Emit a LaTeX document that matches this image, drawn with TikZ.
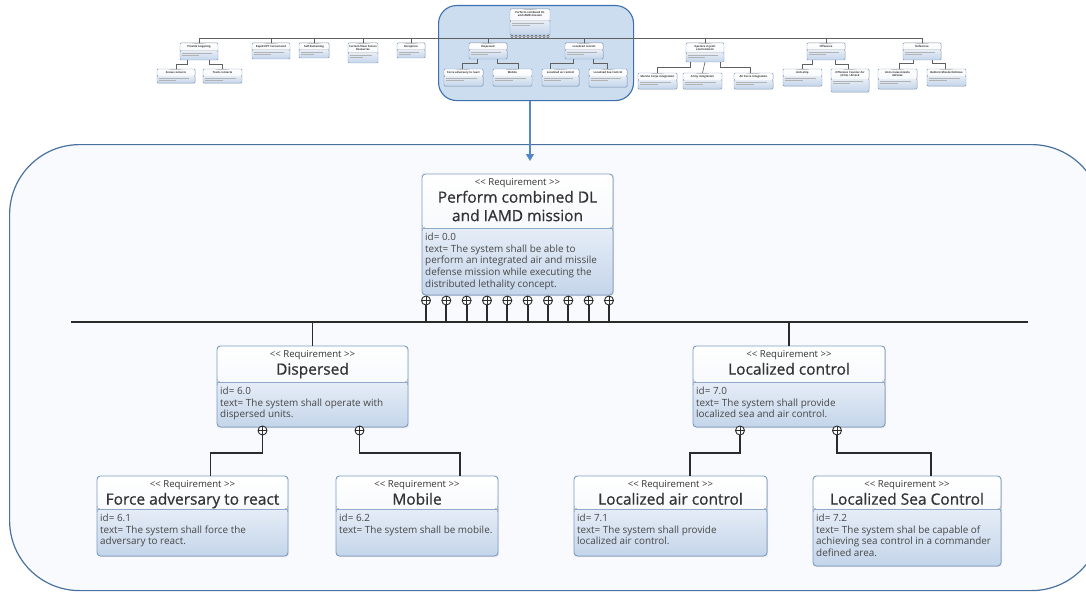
\documentclass[tikz,border=0pt]{standalone}
\usepackage{fontspec}
\setmainfont{Open Sans}
\newfontfamily\heavyfont{Open Sans}[FakeBold=0.7]
\usetikzlibrary{calc,arrows.meta,shadows}

\definecolor{frameblue}{HTML}{4A72A0}
\definecolor{framefill}{HTML}{F8FAFD}
\definecolor{reqborder}{HTML}{7C9CC4}
\definecolor{hdrbot}{HTML}{EDF2F9}
\definecolor{bodytop}{HTML}{E6EDF7}
\definecolor{bodybot}{HTML}{C4D5EA}
\definecolor{sepline}{HTML}{8FA9CB}
\definecolor{inktext}{HTML}{333333}
\definecolor{wirecol}{HTML}{2B2B2B}
\definecolor{hlfill}{HTML}{CCDDF0}
\definecolor{hlborder}{HTML}{3D70AC}
\definecolor{arrowblue}{HTML}{5288C8}

% stereotype label, kept apart so << and >> stay plain angle brackets
\newcommand\reqstereo{<\kern0pt< Requirement >\kern0pt>}

\tikzset{
  req/.style={draw=reqborder, line width=0.9pt, rounded corners=3.5pt,
    anchor=north west, inner sep=0pt, outer sep=0pt,
    drop shadow={opacity=0.12, shadow xshift=1.2pt, shadow yshift=-1.2pt},
    path picture={
      \fill[top color=white, bottom color=hdrbot]
        (path picture bounding box.north west) rectangle
        ([yshift=-#1pt]path picture bounding box.north east);
      \fill[top color=bodytop, bottom color=bodybot]
        ([yshift=-#1pt]path picture bounding box.north west) rectangle
        (path picture bounding box.south east);
      \draw[sepline, line width=0.8pt]
        ([yshift=-#1pt]path picture bounding box.north west) --
        ([yshift=-#1pt]path picture bounding box.north east);
    }},
  stereo/.style={anchor=base, inner sep=0pt, text=inktext,
    font=\fontsize{9.6}{11}\selectfont},
  reqtitle/.style={anchor=north, inner sep=0pt, align=center, text=inktext,
    font=\heavyfont\fontsize{15.5}{18.5}\selectfont},
  reqbody/.style={anchor=north west, inner sep=0pt, align=left, text=inktext!90,
    font=\fontsize{9.9}{11.8}\selectfont},
  plusc/.style={circle, draw=wirecol, line width=0.9pt, fill=white,
    minimum size=9pt, inner sep=0pt,
    path picture={\draw[wirecol, line width=0.8pt]
      (path picture bounding box.north) -- (path picture bounding box.south)
      (path picture bounding box.west) -- (path picture bounding box.east);}},
  wire/.style={draw=wirecol, line width=1.8pt},
  busline/.style={draw=wirecol, line width=2.6pt},
  % overview tree
  mreq/.style={draw=reqborder, line width=0.4pt, rounded corners=1pt,
    anchor=north west, inner sep=0pt, outer sep=0pt,
    path picture={
      \fill[top color=white, bottom color=hdrbot]
        (path picture bounding box.north west) rectangle
        ([yshift=-#1pt]path picture bounding box.north east);
      \fill[top color=bodytop, bottom color=bodybot]
        ([yshift=-#1pt]path picture bounding box.north west) rectangle
        (path picture bounding box.south east);
      \draw[gray!60, line width=0.5pt]
        ([xshift=1.5pt,yshift={-(#1+2.5)*1pt}]path picture bounding box.north west) --
        ([xshift=-6pt,yshift={-(#1+2.5)*1pt}]path picture bounding box.north east)
        ([xshift=1.5pt,yshift={-(#1+4.6)*1pt}]path picture bounding box.north west) --
        ([yshift={-(#1+4.6)*1pt}]path picture bounding box.north);
    }},
  mstereo/.style={anchor=base, inner sep=0pt, text=inktext,
    font=\fontsize{1.5}{1.7}\selectfont},
  mtitle/.style={anchor=north, inner sep=0pt, align=center, text=inktext,
    font=\fontsize{2.7}{3}\selectfont\bfseries},
  mwire/.style={draw=gray!75!black, line width=0.6pt},
  mdot/.style={circle, draw=gray!40!black, line width=0.3pt, fill=white,
    minimum size=2.4pt, inner sep=0pt},
}

% requirement box: name, left, top, width, height, header height, title, body
\newcommand\reqbox[8]{%
  \node[req=#6, minimum width=#4pt, minimum height=#5pt] (#1) at (#2,#3) {};
  \node[stereo] (#1-st) at ($(#1.north)+(0,11.7)$) {\reqstereo};
  \node[reqtitle] (#1-ti) at ($(#1.north)+(0,15.5)$) {\strut #7};
  \node[reqbody] (#1-tx) at ($(#1.north west)+(3,#6+3.8)$) {\strut #8};
}
% small box of the overview tree: name, left, top, width, height, header height, title
\newcommand\minireq[7]{%
  \node[mreq=#6, minimum width=#4pt, minimum height=#5pt] (#1) at (#2,#3) {};
  \node[mstereo] (#1-st) at ($(#1.north)+(0,1.7)$) {\reqstereo};
  \node[mtitle] (#1-ti) at ($(#1.north)+(0,2.1)$) {#7};
}

\begin{document}
\begin{tikzpicture}[x=1pt, y=-1pt]
\useasboundingbox (0,0) rectangle (1086,594);
\clip (0,0) rectangle (1086,594);

% ---------- overview of the whole requirement tree ----------
\node[draw=hlborder, line width=1.1pt, fill=hlfill, rounded corners=18pt,
  minimum width=195pt, minimum height=95pt, anchor=north west, inner sep=0pt]
  (minibox) at (438,5) {};

\coordinate (mbarL) at (199,38.5);
\coordinate (mbarR) at (922,38.5);
\draw[mwire, line width=0.7pt] (mbarL) -- (mbarR);

\minireq{mTop}{510}{9}{40}{26}{12}{Perform combined DL\\and IAMD mission}
\minireq{mP1}{180}{43}{38}{17}{8}{Provide targeting}
\minireq{mS}{157}{69}{38}{14}{7}{Sense contacts}
\minireq{mT}{203}{69}{39}{14}{7}{Track contacts}
\minireq{mP2}{252}{43}{38}{16}{7}{Rapid HPT turnaround}
\minireq{mP3}{299}{43}{30}{15}{7}{Self-Sustaining}
\minireq{mP4}{348}{43}{30}{20}{10}{Current/Near Future\\Resources}
\minireq{mP5}{397}{43}{28}{15}{7}{Deception}
\minireq{mDisp}{469}{43}{38}{16}{7}{Dispersed}
\minireq{mLoc}{565}{43}{38}{16}{7}{Localized control}
\minireq{mForce}{444}{69}{39}{17}{7}{Force adversary to react}
\minireq{mMob}{493}{69}{39}{17}{7}{Mobile}
\minireq{mAir}{542}{69}{37}{17}{7}{Localized air control}
\minireq{mSea}{589}{69}{38}{18}{7}{Localized Sea Control}
\minireq{mOp}{686}{43}{38}{19}{10}{Operate in joint\\environment}
\minireq{mMar}{638}{73}{39}{16}{7}{Marine Corps integration}
\minireq{mArmy}{683}{73}{39}{16}{7}{Army integration}
\minireq{mAF}{734}{73}{39}{16}{7}{Air Force integration}
\minireq{mOff}{807}{43}{38}{17}{7}{Offensive}
\minireq{mShip}{783}{69}{39}{17}{7}{Anti-ship}
\minireq{mOCA}{831}{69}{38}{23}{10}{Offensive Counter Air\\(OCA) / Attack}
\minireq{mDef}{903}{43}{38}{17}{7}{Defensive}
\minireq{mACM}{878}{69}{39}{20}{10}{Anti-cruise missile\\defense}
\minireq{mBMD}{927}{69}{39}{17}{7}{Ballistic Missile Defense}

% root of the overview and its links to the bus
\foreach \i in {0,...,9}{
  \node[mdot] (mtc\i) at ({512+\i*4},36.4) {};
}
\foreach \n in {mP1,mP2,mP3,mP4,mP5,mDisp,mLoc,mOp,mOff,mDef}{
  \draw[mwire] (\n.north |- mbarL) -- (\n.north);
}
% second-level links of the overview
\draw[mwire] ([xshift=-12pt]mP1.south) -- ++(0,4.5) -| (mS.north);
\draw[mwire] ([xshift=10pt]mP1.south) -- ++(0,4.5) -| (mT.north);
\draw[mwire] ([xshift=-11pt]mDisp.south) -- ++(0,4) -| ([xshift=-1pt]mForce.north);
\draw[mwire] ([xshift=9pt]mDisp.south) -- ++(0,4) -| ([xshift=6pt]mMob.north);
\draw[mwire] ([xshift=-11pt]mLoc.south) -- ++(0,4) -| ([xshift=-10pt]mAir.north);
\draw[mwire] ([xshift=9pt]mLoc.south) -- ++(0,4) -| ([xshift=-1pt]mSea.north);
\draw[mwire] ([xshift=-15pt]mOp.south) -- ++(0,5) -| (mMar.north);
\draw[mwire] (mOp.south) -- (mArmy.north);
\draw[mwire] ([xshift=15pt]mOp.south) -- ++(0,5) -| ([xshift=-3pt]mAF.north);
\draw[mwire] ([xshift=-14pt]mOff.south) -- ++(0,4) -| ([xshift=0pt]mShip.north);
\draw[mwire] ([xshift=9pt]mOff.south) -- ++(0,4) -| ([xshift=-2pt]mOCA.north);
\draw[mwire] ([xshift=-9pt]mDef.south) -- ++(0,3.5) -| ([xshift=2pt]mACM.north);
\draw[mwire] ([xshift=10pt]mDef.south) -- ++(0,3.5) -| ([xshift=-1pt]mBMD.north);

% ---------- enlarged part ----------
\node[draw=frameblue, line width=1.2pt, fill=framefill, rounded corners=70pt,
  minimum width=1092pt, minimum height=446pt, anchor=north west, inner sep=0pt]
  (zoomframe) at (9,144) {};

\coordinate (tip) at (530,161);
\draw[arrowblue, line width=1.2pt, -{Triangle[width=8pt,length=7pt]}]
  (tip |- minibox.south) -- (tip);

\reqbox{top}{422}{174}{191}{121}{54}{Perform combined DL\\and IAMD mission}
  {id= 0.0\\text= The system shall be able to\\perform an integrated air and missile\\defense mission while executing the\\distributed lethality concept.}
\reqbox{disp}{217}{346}{191}{81}{36}{Dispersed}
  {id= 6.0\\text= The system shall operate with\\dispersed units.}
\reqbox{loc}{693}{346}{192}{81}{36}{Localized control}
  {id= 7.0\\text= The system shall provide\\localized sea and air control.}
\reqbox{force}{97}{476}{191}{80}{33}{Force adversary to react}
  {id= 6.1\\text= The system shall force the\\adversary to react.}
\reqbox{mobile}{336}{476}{162}{80}{33}{Mobile}
  {id= 6.2\\text= The system shall be mobile.}
\reqbox{air}{574}{476}{193}{80}{33}{Localized air control}
  {id= 7.1\\text= The system shall provide\\localized air control.}
\reqbox{sea}{813}{476}{188}{90}{33}{Localized Sea Control}
  {id= 7.2\\text= The system shal be capable of\\achieving sea control in a commander\\defined area.}

% bus under the root requirement
\coordinate (barL) at (71,322);
\coordinate (barR) at (1028,322);
\coordinate (elbowY) at (0,453);

\foreach \i in {0,...,9}{
  \node[plusc] (tc\i) at ({426+\i*20.33},300.5) {};
  \draw[wire] (tc\i.south) -- (tc\i.south |- barL);
}
\draw[busline] (barL) -- (barR);
\draw[wire] (disp.north |- barL) -- (disp.north);
\draw[wire] (loc.north |- barL) -- (loc.north);

% children of Dispersed and Localized control
\node[plusc] (dc1) at ($(disp.south)+(-50,3.5)$) {};
\node[plusc] (dc2) at ($(disp.south)+(47,3.5)$) {};
\node[plusc] (lc1) at ($(loc.south)+(-49,3.5)$) {};
\node[plusc] (lc2) at ($(loc.south)+(48,3.5)$) {};
\draw[wire] (dc1.south) -- (dc1.south |- elbowY) -| ($(force.north)+(18,0)$);
\draw[wire] (dc2.south) -- (dc2.south |- elbowY) -| ($(mobile.north)+(43,0)$);
\draw[wire] (lc1.south) -- (lc1.south |- elbowY) -| ($(air.north)+(19.5,0)$);
\draw[wire] (lc2.south) -- (lc2.south |- elbowY) -| ($(sea.north)+(24,0)$);
\end{tikzpicture}
\end{document}
